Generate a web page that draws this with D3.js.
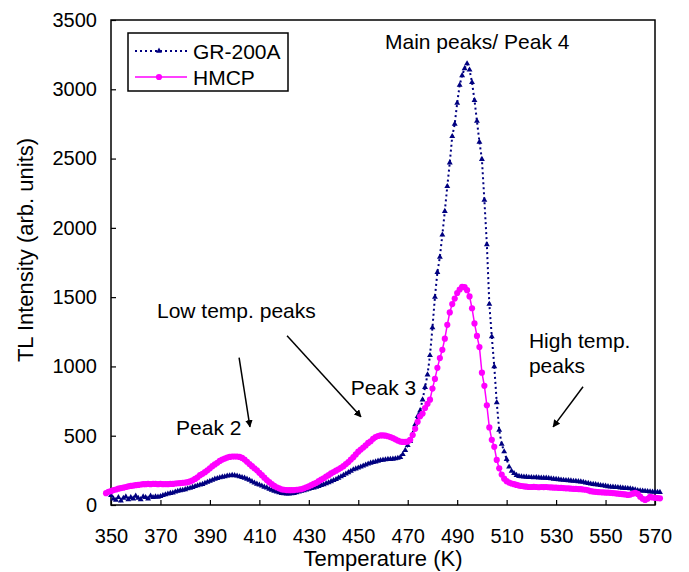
<!DOCTYPE html>
<html>
<head>
<meta charset="utf-8">
<script src="https://cdn.jsdelivr.net/npm/d3@7"></script>
<style>
  body { margin: 0; background: #fff; }
  text { font-family: "Liberation Sans", Arial, Helvetica, sans-serif; fill: #000; }
</style>
</head>
<body>
<svg id="chart"></svg>
<script>
// Temperature grid (K), one reading per kelvin
const temps = d3.range(348, 573);

// GR-200A intensity (arb. units), 348..572 K
const gr200a = [null, null,
  70, 45, 35, 55, 30, 50, 60, 40, 55, 45,
  65, 50, 40, 60, 55, 45, 65, 55, 60, 58,
  62, 70, 75, 80, 85, 88, 95, 100, 105, 108,
  112, 118, 122, 128, 135, 140, 145, 150, 158, 165,
  172, 180, 188, 192, 198, 202, 205, 210, 212, 215,
  213, 210, 205, 200, 195, 188, 180, 170, 160, 152,
  145, 138, 130, 125, 115, 108, 100, 95, 90, 85,
  82, 80, 80, 82, 85, 90, 95, 100, 105, 110,
  115, 120, 125, 130, 135, 142, 148, 155, 162, 170,
  178, 185, 195, 205, 215, 225, 235, 245, 255, 262,
  268, 275, 282, 290, 297, 303, 308, 312, 318, 322,
  325, 328, 330, 330, 332, 335, 338, 345, 365, 395,
  430, 460, 515, 580, 640, 680, 760, 850, 940, 1080,
  1280, 1500, 1680, 1790, 1950, 2120, 2300, 2470, 2660, 2750,
  2900, 3030, 3100, 3150, 3185, 3140, 3050, 2920, 2770, 2620,
  2495, 2200, 1880, 1450, 1215, 1000, 740, 540, 440, 385,
  330, 275, 245, 228, 215, 208, 205, 203, 202, 200,
  200, 198, 199, 197, 196, 195, 195, 193, 190, 188,
  186, 184, 182, 180, 178, 177, 175, 173, 172, 170,
  168, 165, 160, 157, 153, 150, 148, 145, 142, 140,
  137, 134, 131, 130, 128, 127, 125, 123, 121, 120,
  118, 115, 110, 105, 103, 102, 100, 98, 96, 95,
  94, 93, 92];

// HMCP intensity (arb. units), 348..572 K
const hmcp = [85, 95,
  100, 108, 112, 118, 122, 125, 130, 135, 138, 140,
  143, 145, 148, 150, 150, 152, 150, 153, 152, 150,
  152, 150, 151, 150, 152, 152, 155, 157, 158, 160,
  162, 165, 170, 178, 188, 200, 215, 225, 237, 250,
  265, 280, 293, 305, 318, 328, 335, 342, 347, 350,
  350, 350, 347, 340, 328, 312, 295, 280, 265, 250,
  232, 215, 197, 180, 165, 150, 138, 128, 120, 113,
  110, 108, 107, 107, 108, 110, 112, 115, 120, 128,
  135, 143, 152, 160, 172, 183, 193, 205, 215, 228,
  238, 248, 258, 268, 280, 295, 310, 328, 345, 365,
  385, 400, 415, 430, 448, 460, 478, 490, 498, 502,
  502, 500, 496, 490, 483, 474, 465, 458, 455, 455,
  458, 470, 505, 550, 600, 640, 660, 700, 730, 760,
  840, 910, 990, 1060, 1120, 1200, 1300, 1390, 1450, 1490,
  1530, 1555, 1575, 1572, 1550, 1505, 1420, 1310, 1220, 1140,
  955, 860, 720, 560, 470, 420, 325, 265, 220, 190,
  172, 162, 155, 150, 145, 140, 137, 135, 132, 130,
  130, 131, 130, 128, 130, 129, 130, 128, 127, 126,
  125, 124, 123, 122, 120, 120, 118, 117, 116, 115,
  114, 112, 110, 106, 100, 97, 95, 93, 92, 91,
  90, 89, 88, 86, 84, 82, 80, 78, 76, 73,
  75, 82, 87, 80, 60, 45, 36, 45, 58, 55,
  52, 50, 48];

const xTicks = [350, 370, 390, 410, 430, 450, 470, 490, 510, 530, 550, 570];
const yTicks = [0, 500, 1000, 1500, 2000, 2500, 3000, 3500];

// annotation texts and their anchor points in data units [T, intensity]
const notes = [
  { text: "Main peaks/ Peak 4", t: 460.8, v: 3290 },
  { text: "Low temp. peaks", t: 368.6, v: 1352 },
  { text: "Peak 2", t: 376.3, v: 506 },
  { text: "Peak 3", t: 447.0, v: 795 },
  { text: "High temp.", t: 519.0, v: 1135 },
  { text: "peaks", t: 519.0, v: 955 }
];
const arrows = [
  { t1: 401.8, v1: 1063, t2: 406.2, v2: 564 },
  { t1: 421.2, v1: 1222, t2: 451.1, v2: 636 },
  { t1: 540.9, v1: 853, t2: 528.8, v2: 564 }
];

const margin = { top: 20, right: 34, bottom: 67, left: 111 };
const W = 689, H = 572;
const width = W - margin.left - margin.right;
const height = H - margin.top - margin.bottom;

const svg = d3.select("#chart").attr("width", W).attr("height", H);

const defs = svg.append("defs");
defs.append("marker")
  .attr("id", "arrow")
  .attr("viewBox", "0 0 10 10")
  .attr("refX", 9).attr("refY", 5)
  .attr("markerWidth", 5).attr("markerHeight", 5)
  .attr("orient", "auto")
  .append("path")
  .attr("d", "M0,0 L10,5 L0,10 Z")
  .attr("fill", "#000");

const g = svg.append("g")
  .attr("transform", "translate(" + margin.left + "," + margin.top + ")");

const x = d3.scaleLinear().domain([350, 570]).range([0, width]);
const y = d3.scaleLinear().domain([0, 3500]).range([height, 0]);

// axes with inner ticks
g.append("g")
  .attr("transform", "translate(0," + height + ")")
  .call(d3.axisBottom(x).tickValues(xTicks).tickFormat(d3.format("d"))
    .tickSize(-5).tickPadding(24).tickSizeOuter(0))
  .call(a => a.selectAll("text").style("font-size", "20px"))
  .call(a => a.select(".domain").remove());

g.append("g")
  .call(d3.axisLeft(y).tickValues(yTicks).tickFormat(d3.format("d"))
    .tickSize(-5).tickPadding(14).tickSizeOuter(0))
  .call(a => a.selectAll("text").style("font-size", "20px"))
  .call(a => a.select(".domain").remove());

g.selectAll(".tick line").attr("stroke", "#000").attr("stroke-width", 1.2);

// plot frame
g.append("rect")
  .attr("width", width)
  .attr("height", height)
  .attr("fill", "none")
  .attr("stroke", "#000")
  .attr("stroke-width", 1.5);

// axis titles
svg.append("text")
  .attr("x", margin.left + width / 2)
  .attr("y", 566)
  .attr("text-anchor", "middle")
  .style("font-size", "22px")
  .text("Temperature (K)");

svg.append("text")
  .attr("transform", "translate(33," + 250 + ") rotate(-90)")
  .attr("text-anchor", "middle")
  .style("font-size", "22px")
  .text("TL Intensity (arb. units)");

// GR-200A: dotted navy line with small triangles
const navyPts = temps.map((t, i) => ({ t: t, v: gr200a[i] })).filter(d => d.v != null);
const line = d3.line().x(d => x(d.t)).y(d => y(d.v));

g.append("path")
  .datum(navyPts)
  .attr("fill", "none")
  .attr("stroke", "#000080")
  .attr("stroke-width", 2)
  .attr("stroke-dasharray", "2,3")
  .attr("d", line);

g.selectAll(".tri")
  .data(navyPts)
  .enter()
  .append("path")
  .attr("class", "tri")
  .attr("d", d3.symbol().type(d3.symbolTriangle).size(15))
  .attr("transform", d => "translate(" + x(d.t) + "," + y(d.v) + ")")
  .attr("fill", "#000080");

// HMCP: magenta solid line with dots
const pinkPts = temps.map((t, i) => ({ t: t, v: hmcp[i] }));

g.append("path")
  .datum(pinkPts)
  .attr("fill", "none")
  .attr("stroke", "#ff00ff")
  .attr("stroke-width", 1.5)
  .attr("d", line);

g.selectAll(".dot")
  .data(pinkPts)
  .enter()
  .append("circle")
  .attr("class", "dot")
  .attr("cx", d => x(d.t))
  .attr("cy", d => y(d.v))
  .attr("r", 3.1)
  .attr("fill", "#ff00ff");

// annotations
g.selectAll(".note")
  .data(notes)
  .enter()
  .append("text")
  .attr("class", "note")
  .attr("x", d => x(d.t))
  .attr("y", d => y(d.v))
  .style("font-size", "21px")
  .text(d => d.text);

g.selectAll(".arrow")
  .data(arrows)
  .enter()
  .append("line")
  .attr("class", "arrow")
  .attr("x1", d => x(d.t1)).attr("y1", d => y(d.v1))
  .attr("x2", d => x(d.t2)).attr("y2", d => y(d.v2))
  .attr("stroke", "#000")
  .attr("stroke-width", 1.5)
  .attr("marker-end", "url(#arrow)");

// legend
const legend = svg.append("g").attr("transform", "translate(128,33)");
legend.append("rect")
  .attr("width", 160).attr("height", 58)
  .attr("fill", "#fff").attr("stroke", "#000").attr("stroke-width", 1.5);

legend.append("line")
  .attr("x1", 7).attr("x2", 59).attr("y1", 18).attr("y2", 18)
  .attr("stroke", "#000080").attr("stroke-width", 2).attr("stroke-dasharray", "2,3");
legend.append("path")
  .attr("d", d3.symbol().type(d3.symbolTriangle).size(15))
  .attr("transform", "translate(31,18)")
  .attr("fill", "#000080");
legend.append("text")
  .attr("x", 65).attr("y", 18).attr("dy", "0.36em")
  .style("font-size", "21px")
  .text("GR-200A");

legend.append("line")
  .attr("x1", 7).attr("x2", 59).attr("y1", 44).attr("y2", 44)
  .attr("stroke", "#ff00ff").attr("stroke-width", 1.5);
legend.append("circle")
  .attr("cx", 31).attr("cy", 44).attr("r", 3.1)
  .attr("fill", "#ff00ff");
legend.append("text")
  .attr("x", 65).attr("y", 44).attr("dy", "0.36em")
  .style("font-size", "21px")
  .text("HMCP");
</script>
</body>
</html>
